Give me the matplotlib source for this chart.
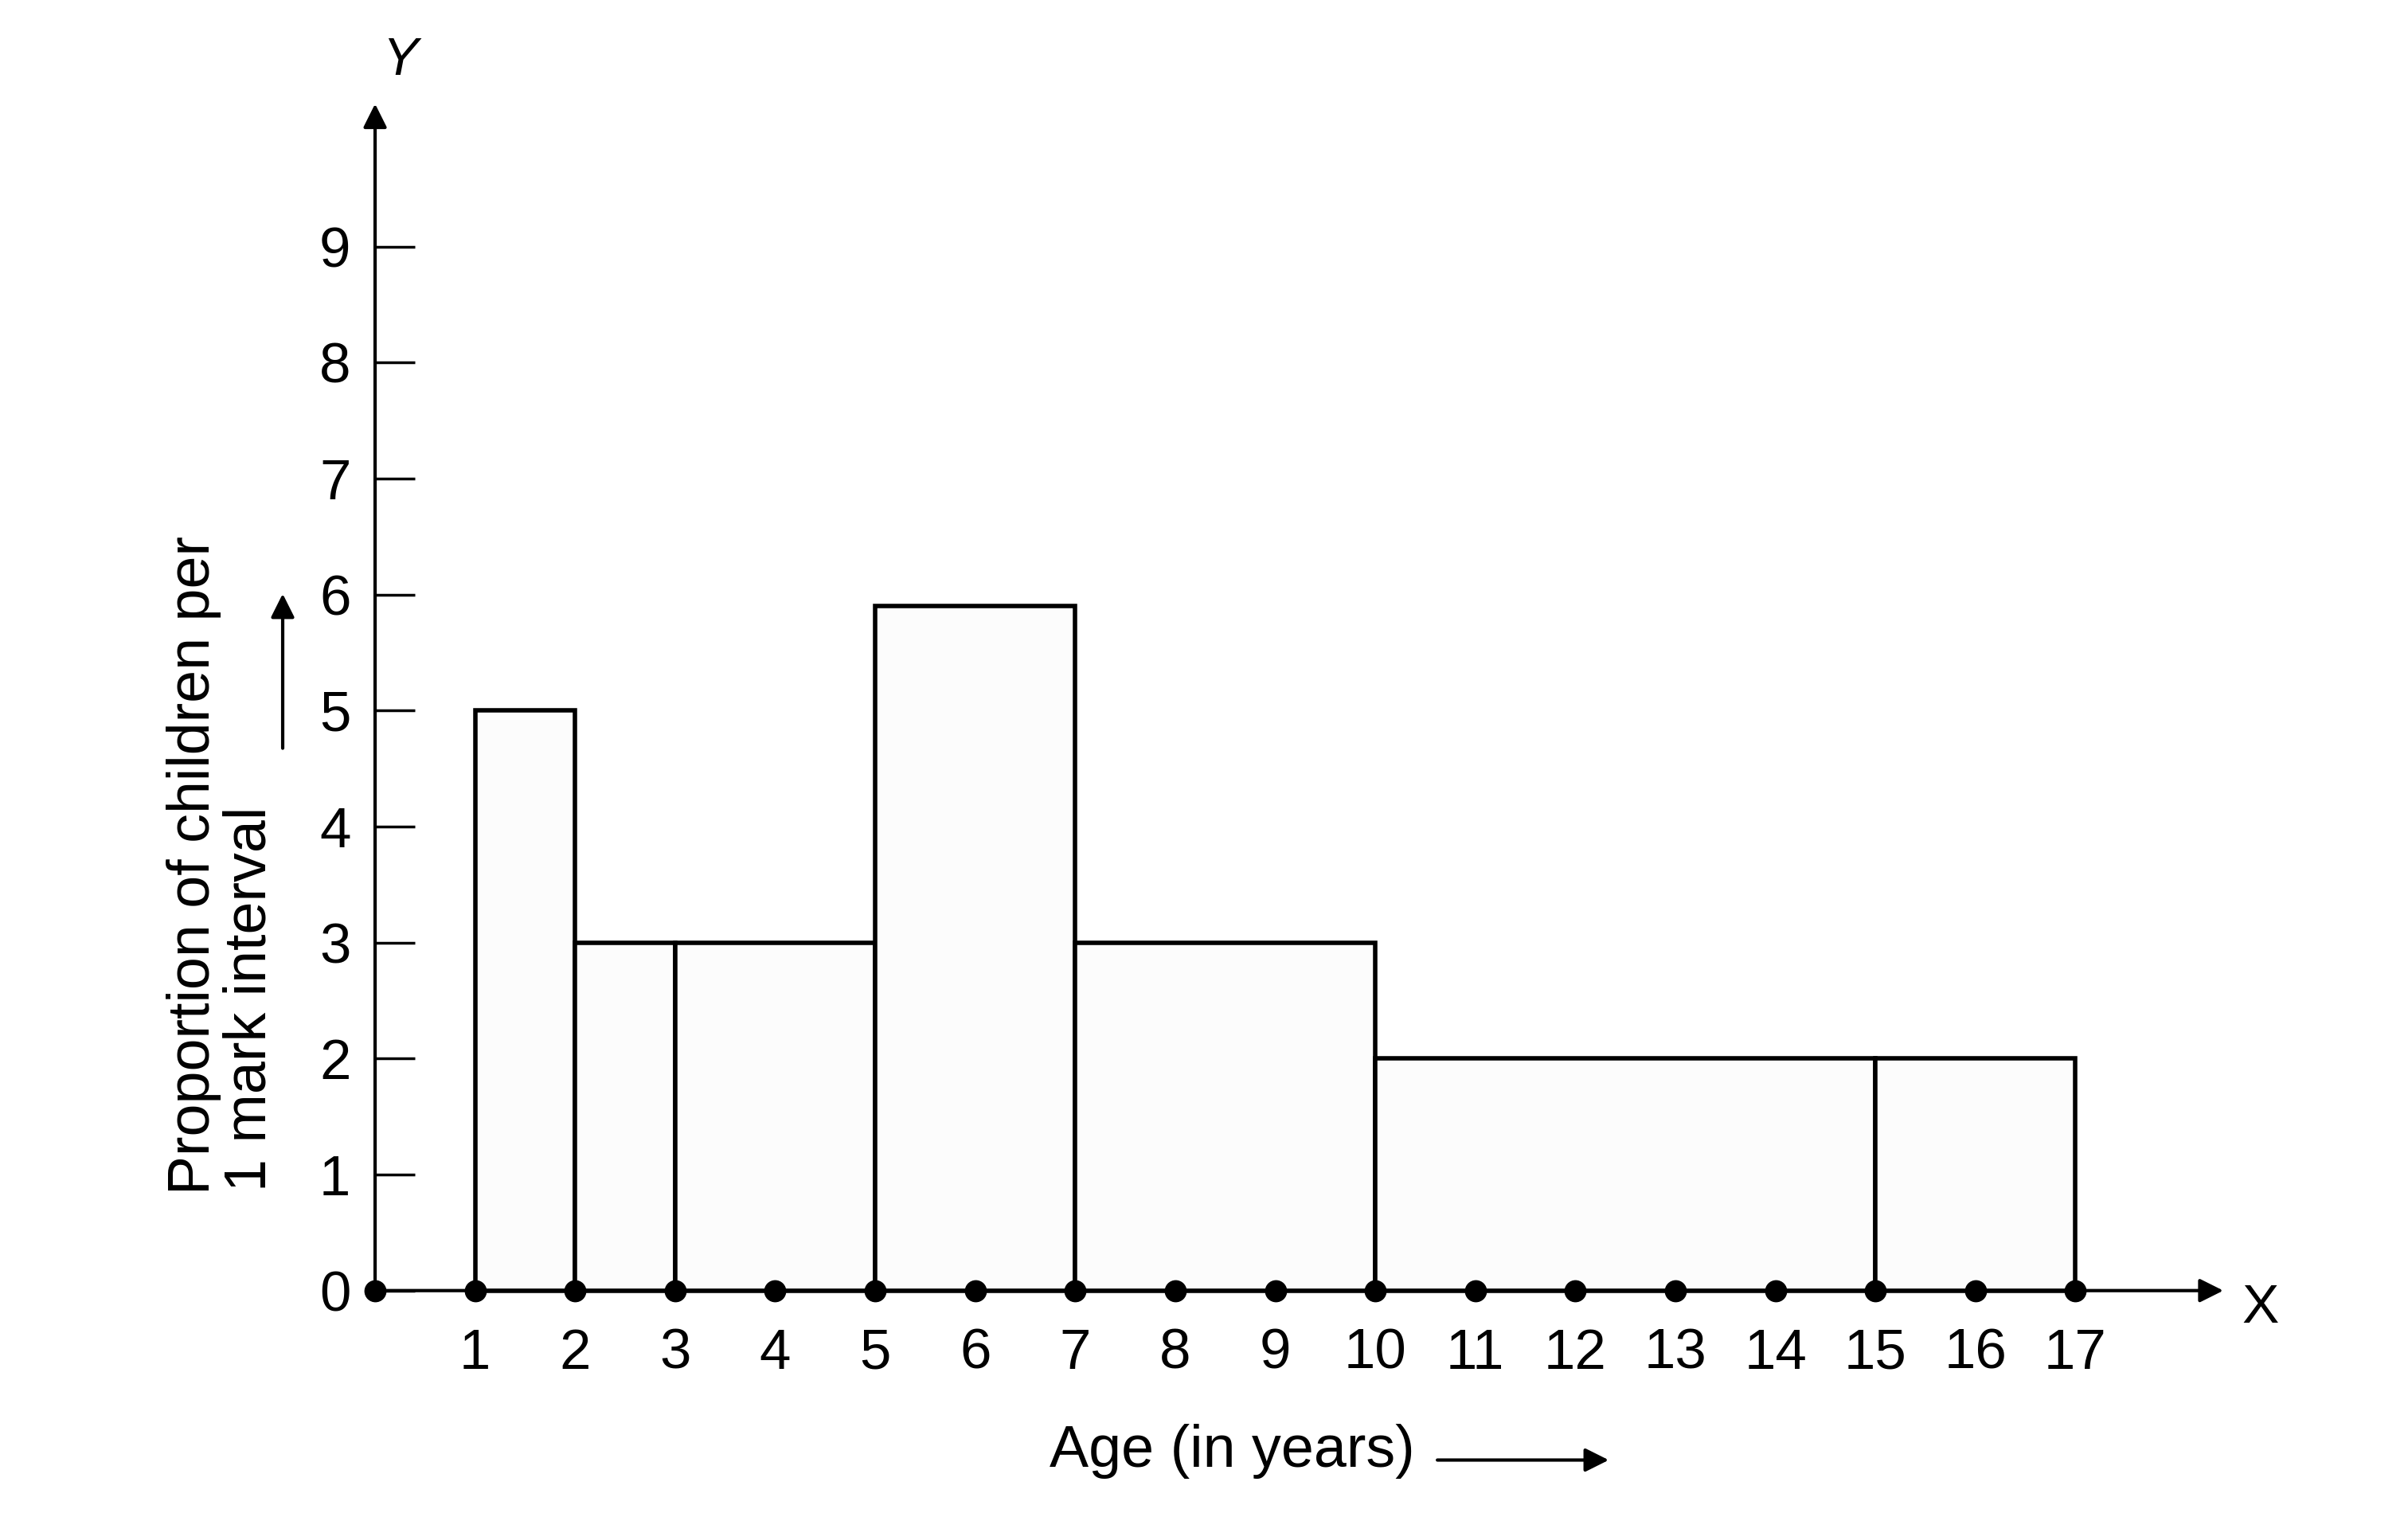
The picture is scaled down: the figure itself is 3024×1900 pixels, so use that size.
import matplotlib
matplotlib.use('Agg')
import matplotlib.pyplot as plt

# histogram data (class intervals of age, bar heights)
left_edges = [1, 2, 3, 5, 7, 10, 15]
widths = [1, 1, 2, 2, 3, 5, 2]
heights = [5, 3, 3, 5.9, 3, 2, 2]
dot_x = list(range(0, 18))
x_ticks = list(range(1, 18))
y_ticks = list(range(0, 10))

plt.rcParams['font.family'] = ['Liberation Sans', 'DejaVu Sans']

fig = plt.figure(figsize=(30.24, 19), dpi=100)
ax = fig.add_axes([0.135, 0.101, 0.81, 0.851])
ax.set_xlim(-0.5, 19)
ax.set_ylim(-0.6, 10.5)

ax.bar(left_edges, heights, width=widths, align='edge',
       facecolor='#fcfcfc', edgecolor='black', linewidth=4, zorder=2)

# axes lines with arrows
for s in ax.spines.values():
    s.set_visible(False)
ax.spines['left'].set_position(('data', 0))
ax.spines['bottom'].set_position(('data', 0))
ax.annotate('', xy=(18.5, 0), xytext=(0, 0),
            arrowprops=dict(arrowstyle='-|>', lw=3, color='black', mutation_scale=45), zorder=3)
ax.annotate('', xy=(0, 10.25), xytext=(0, 0),
            arrowprops=dict(arrowstyle='-|>', lw=3, color='black', mutation_scale=45), zorder=3)

ax.plot(dot_x, [0] * len(dot_x), 'o', color='black', markersize=19, zorder=4, clip_on=False)

ax.set_xticks(x_ticks)
ax.set_xticklabels([str(v) for v in x_ticks])
ax.tick_params(axis='x', length=0, pad=34, labelsize=51)
ax.set_yticks(y_ticks)
ax.set_yticklabels([str(v) for v in y_ticks])
ax.tick_params(axis='y', direction='in', length=36, width=2.5, pad=22, labelsize=51)

ax.text(0.25, 10.6, 'Y', fontsize=48, style='italic', ha='center', va='center')
ax.text(18.85, -0.15, 'X', fontsize=50, ha='center', va='center')

# axis titles
fig.text(0.5116, 0.041, 'Age (in years)', fontsize=53, ha='center', va='center')
fig.patches.append(matplotlib.patches.FancyArrowPatch(
    (0.596, 0.035), (0.669, 0.035), transform=fig.transFigure,
    arrowstyle='-|>', mutation_scale=45, lw=3, color='black'))

fig.text(0.0806, 0.428, 'Proportion of children per', fontsize=53,
         rotation=90, ha='center', va='center')
fig.text(0.104, 0.34, '1 mark interval', fontsize=53,
         rotation=90, ha='center', va='center')
fig.patches.append(matplotlib.patches.FancyArrowPatch(
    (0.1174, 0.504), (0.1174, 0.609), transform=fig.transFigure,
    arrowstyle='-|>', mutation_scale=45, lw=3, color='black'))

fig.savefig('out.png', dpi=100, facecolor='white')
